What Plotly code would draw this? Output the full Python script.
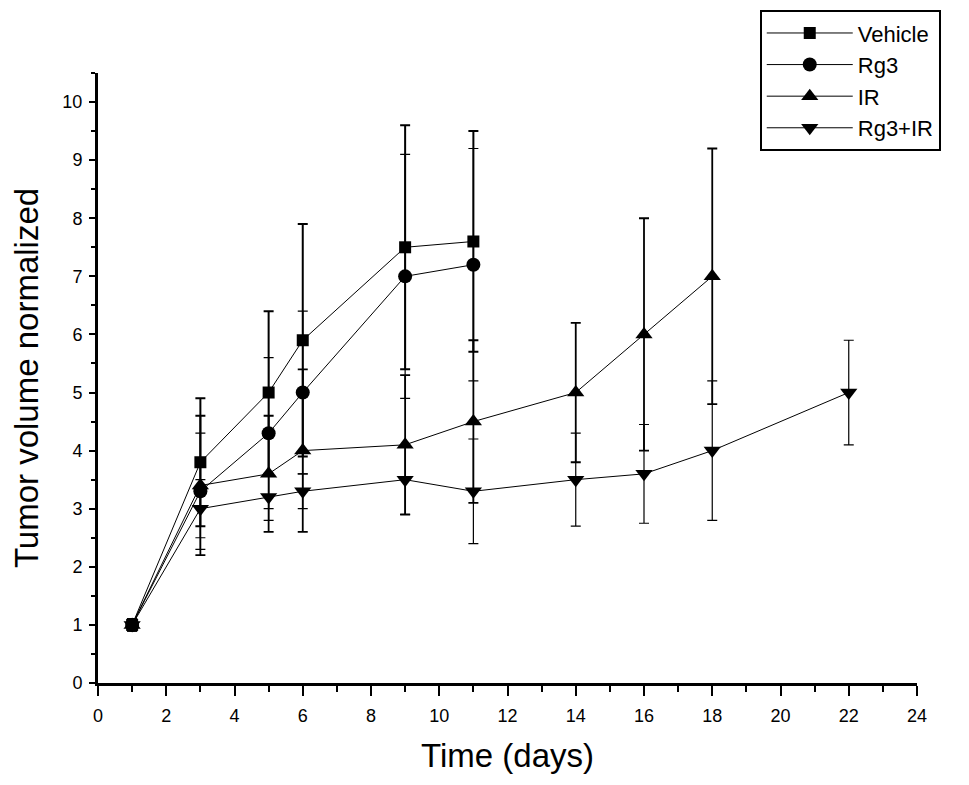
import plotly.graph_objects as go

# ── Données ───────────────────────────────────────────────────────────────────
days_vehicle = [1, 3, 5, 6, 9, 11]
vol_vehicle  = [1.0, 3.8, 5.0, 5.9, 7.5, 7.6]
err_vehicle  = [0.1, 1.1, 1.4, 2.0, 2.1, 1.9]

days_rg3 = [1, 3, 5, 6, 9, 11]
vol_rg3  = [1.0, 3.3, 4.3, 5.0, 7.0, 7.2]
err_rg3  = [0.1, 1.0, 1.3, 1.4, 2.1, 2.0]

days_ir = [1, 3, 5, 6, 9, 11, 14, 16, 18]
vol_ir  = [1.0, 3.4, 3.6, 4.0, 4.1, 4.5, 5.0, 6.0, 7.0]
err_ir  = [0.1, 1.2, 1.0, 1.4, 1.2, 1.4, 1.2, 2.0, 2.2]

days_combo = [1, 3, 5, 6, 9, 11, 14, 16, 18, 22]
vol_combo  = [1.0, 3.0, 3.2, 3.3, 3.5, 3.3, 3.5, 3.6, 4.0, 5.0]
err_combo  = [0.1, 0.5, 0.4, 0.3, 0.6, 0.9, 0.8, 0.85, 1.2, 0.9]

series = [
    ("Vehicle", days_vehicle, vol_vehicle, err_vehicle, "square", 12, 2.0),
    ("Rg3", days_rg3, vol_rg3, err_rg3, "circle", 14, 1.2),
    ("IR", days_ir, vol_ir, err_ir, "triangle-up", 15, 1.8),
    ("Rg3+IR", days_combo, vol_combo, err_combo, "triangle-down", 15, 1.2),
]

fig = go.Figure()
for name, x, y, err, symbol, size, ewidth in series:
    fig.add_trace(go.Scatter(
        x=x, y=y, name=name,
        mode="lines+markers",
        line=dict(color="black", width=1),
        marker=dict(symbol=symbol, size=size, color="black"),
        error_y=dict(type="data", array=err, visible=True,
                     color="black", thickness=ewidth, width=5),
    ))

axis_common = dict(
    showline=True, linecolor="black", linewidth=3,
    ticks="outside", tickcolor="black", tickwidth=2,
    showgrid=False, zeroline=False,
    tickfont=dict(family="Liberation Sans, Arial", size=18, color="black"),
)

fig.update_layout(
    width=969, height=785,
    plot_bgcolor="white", paper_bgcolor="white",
    margin=dict(l=90, r=60, t=65, b=110, autoexpand=False),
    font=dict(family="Liberation Sans, Arial", color="black"),
    xaxis=dict(
        range=[0, 24], dtick=2, ticklen=10, ticklabelstandoff=4,
        minor=dict(dtick=1, ticks="outside", ticklen=6, tickwidth=2, tickcolor="black"),
        title=dict(text="Time (days)", font=dict(size=33), standoff=20),
        **axis_common,
    ),
    yaxis=dict(
        range=[0, 10.5], dtick=1, ticklen=6, ticklabelstandoff=3,
        minor=dict(dtick=0.5, ticks="outside", ticklen=4, tickwidth=2, tickcolor="black"),
        title=dict(text="Tumor volume normalized", font=dict(size=33), standoff=19),
        **axis_common,
    ),
    legend=dict(
        x=0.808, y=1.103, xanchor="left", yanchor="top",
        bordercolor="black", borderwidth=2, bgcolor="white",
        font=dict(size=22), itemwidth=86,
    ),
)

fig.write_html("out.html")
